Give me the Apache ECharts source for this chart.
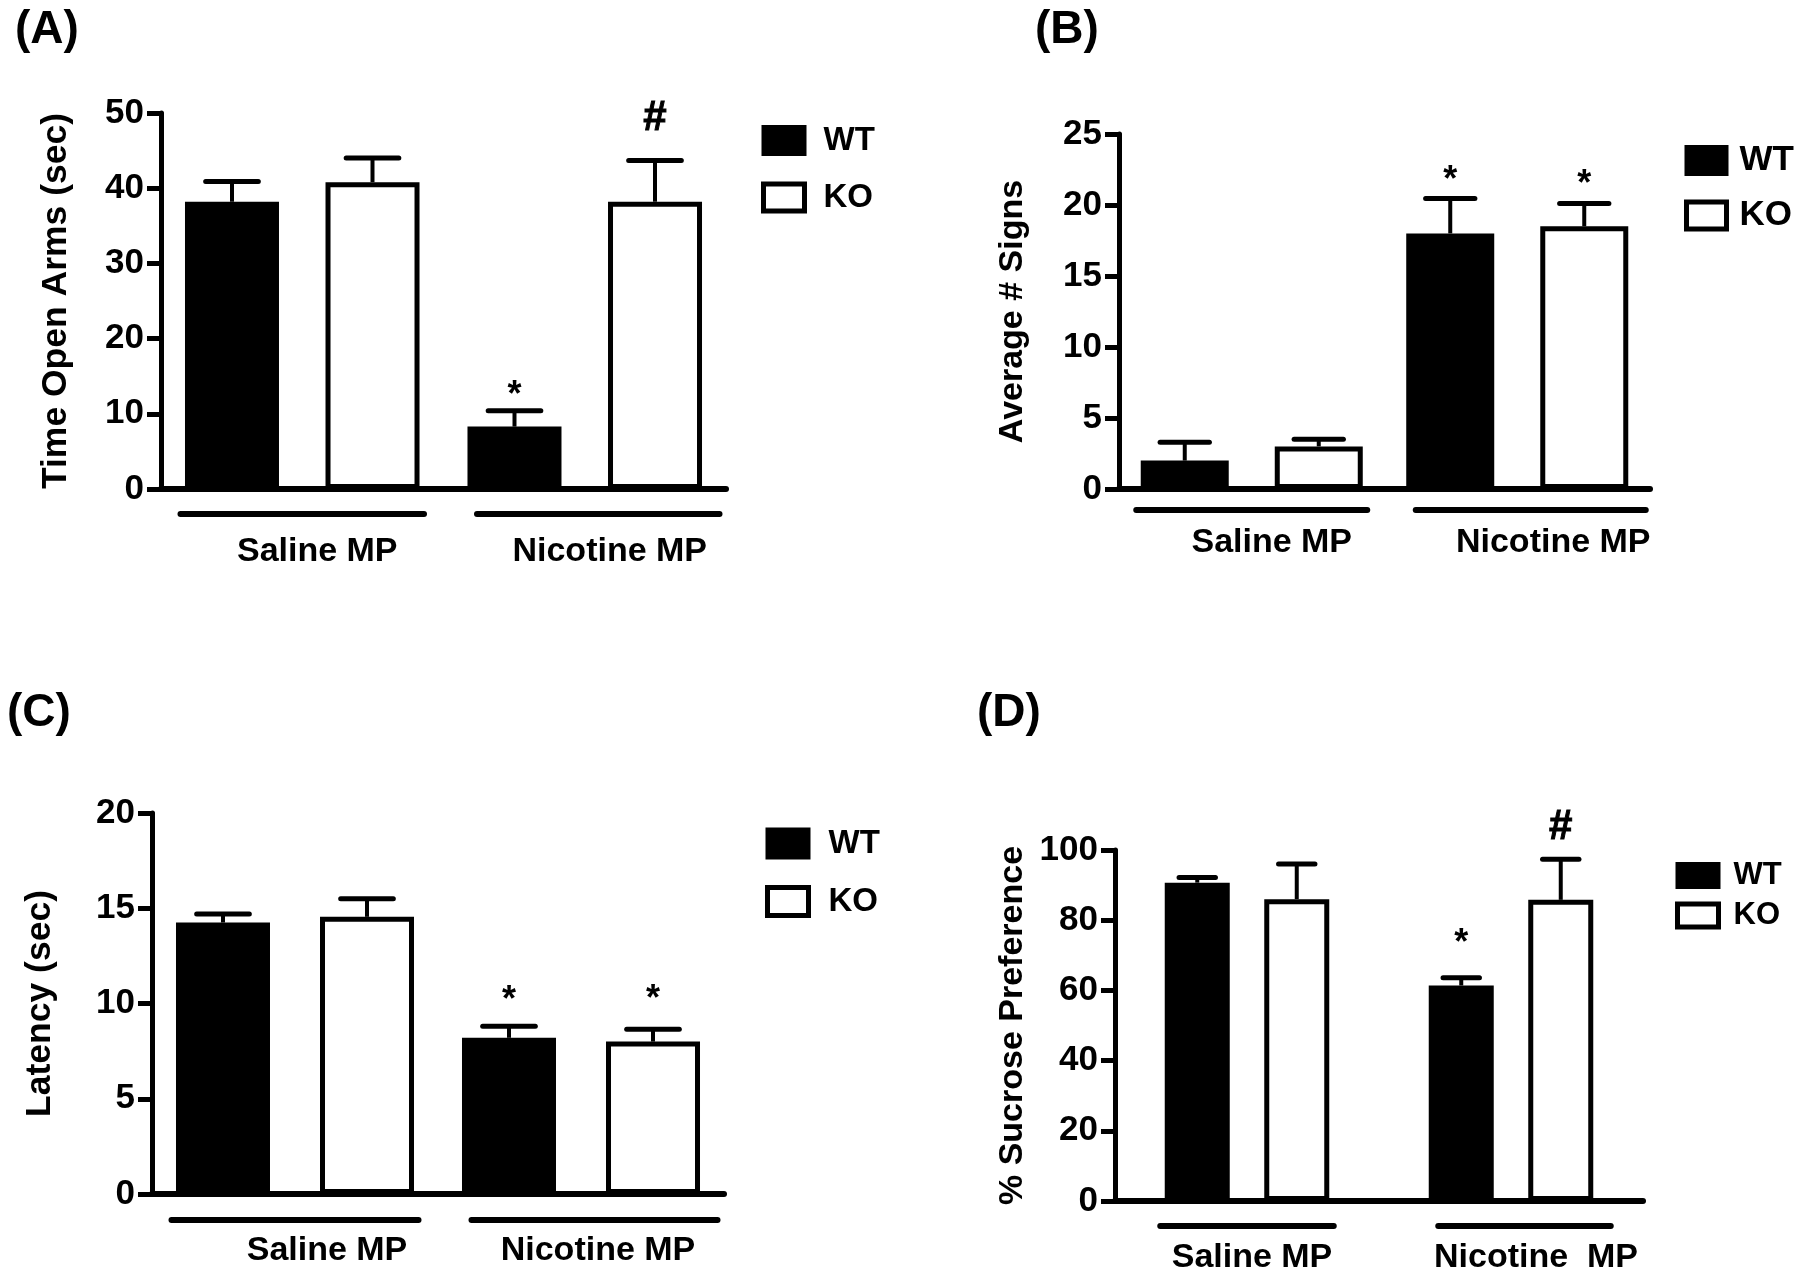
<!DOCTYPE html>
<html><head><meta charset="utf-8">
<script src="https://cdn.jsdelivr.net/npm/echarts@6/dist/echarts.min.js"></script>
<style>html,body{margin:0;padding:0;background:#fff}#c{width:1800px;height:1275px}</style>
</head><body><div id="c"></div>
<script>
// ---------------- DATA ----------------
const groupsABC = ['Saline MP', 'Nicotine MP'];
const groupsD = ['Saline MP', 'Nicotine  MP'];
const seriesNames = ['WT', 'KO'];

// (A) Time Open Arms (sec)
const A_yTicks = [0, 10, 20, 30, 40, 50];
const A_wt = [38.2, 8.3];
const A_wtErr = [2.7, 2.1];
const A_ko = [40.8, 38.2];
const A_koErr = [3.2, 5.5];
const A_wtSig = ['', '*'];
const A_koSig = ['', '#'];

// (B) Average # Signs
const B_yTicks = [0, 5, 10, 15, 20, 25];
const B_wt = [2.0, 18.0];
const B_wtErr = [1.3, 2.45];
const B_ko = [3.0, 18.5];
const B_koErr = [0.5, 1.6];
const B_wtSig = ['', '*'];
const B_koSig = ['', '*'];

// (C) Latency (sec)
const C_yTicks = [0, 5, 10, 15, 20];
const C_wt = [14.25, 8.2];
const C_wtErr = [0.45, 0.6];
const C_ko = [14.55, 8.0];
const C_koErr = [0.95, 0.65];
const C_wtSig = ['', '*'];
const C_koSig = ['', '*'];

// (D) % Sucrose Preference
const D_yTicks = [0, 20, 40, 60, 80, 100];
const D_wt = [90.7, 61.4];
const D_wtErr = [1.5, 2.2];
const D_ko = [86.0, 85.8];
const D_koErr = [10.0, 11.6];
const D_wtSig = ['', '*'];
const D_koSig = ['', '#'];

// ---------------- LAYOUT / STYLE ----------------
const FONT = '"Liberation Sans", Arial, Helvetica, sans-serif';
const panels = [
  { tag: '(A)', yName: 'Time Open Arms (sec)', groups: groupsABC, ticks: A_yTicks,
    wt: A_wt, wtErr: A_wtErr, ko: A_ko, koErr: A_koErr, wtSig: A_wtSig, koSig: A_koSig,
    grid: { left: 161, top: 113, width: 565, height: 376 }, bw: 94, gap: 46.5,
    lblPad: [30, 50], lblMargin: 46, nameGap: 87, nameSize: 35.5, ulOff: 25,
    sigLift: [[0, 23], [0, 43]],
    leg: { left: 761, top: 124, w: 41, h: 27, gap: 24, pad: 14, fs: 33 }, title: { left: 10, top: 2 } },
  { tag: '(B)', yName: 'Average # Signs', groups: groupsABC, ticks: B_yTicks,
    wt: B_wt, wtErr: B_wtErr, ko: B_ko, koErr: B_koErr, wtSig: B_wtSig, koSig: B_koSig,
    grid: { left: 1119, top: 134, width: 531, height: 355 }, bw: 88, gap: 46,
    lblPad: [40, 72], lblMargin: 37, nameGap: 89, nameSize: 34, ulOff: 21,
    sigLift: [[0, 25], [0, 26]],
    leg: { left: 1684, top: 143, w: 40, h: 27, gap: 20, pad: 8, fs: 35 }, title: { left: 1030, top: 2 } },
  { tag: '(C)', yName: 'Latency (sec)', groups: groupsABC, ticks: C_yTicks,
    wt: C_wt, wtErr: C_wtErr, ko: C_ko, koErr: C_koErr, wtSig: C_wtSig, koSig: C_koSig,
    grid: { left: 152, top: 813, width: 572, height: 381 }, bw: 94, gap: 50,
    lblPad: [64, 34], lblMargin: 40, nameGap: 94, nameSize: 35.5, ulOff: 26,
    sigLift: [[0, 33], [0, 37]],
    leg: { left: 765, top: 827, w: 41, h: 28, gap: 25, pad: 15, fs: 33 }, title: { left: 2, top: 685 } },
  { tag: '(D)', yName: '% Sucrose Preference', groups: groupsD, ticks: D_yTicks,
    wt: D_wt, wtErr: D_wtErr, ko: D_ko, koErr: D_koErr, wtSig: D_wtSig, koSig: D_koSig,
    grid: { left: 1115, top: 850, width: 528, height: 354 }, bw: 65, gap: 34.5,
    lblPad: [10, 50], lblMargin: 40, nameGap: 85, nameSize: 34, ulOff: 25,
    sigLift: [[0, 42], [0, 33]],
    leg: { left: 1675, top: 860, w: 41, h: 23, gap: 9, pad: 10, fs: 31 }, title: { left: 972, top: 685 } }
];

const option = {
  animation: false,
  backgroundColor: '#fff',
  title: [], grid: [], xAxis: [], yAxis: [], legend: [], series: []
};

panels.forEach((p, k) => {
  option.title.push({ text: p.tag, left: p.title.left, top: p.title.top,
    textStyle: { fontFamily: FONT, fontWeight: 'bold', fontSize: 46, color: '#000' } });
  option.grid.push(Object.assign({ containLabel: false }, p.grid));
  option.xAxis.push({
    type: 'category', gridIndex: k,
    data: p.groups.map((g, i) => ({ value: g, textStyle: { padding: [0, 0, 0, p.lblPad[i]] } })),
    axisLine: { lineStyle: { color: '#000', width: 6 } },
    axisTick: { show: false },
    axisLabel: { interval: 0, hideOverlap: false, color: '#000', fontFamily: FONT, fontWeight: 'bold', fontSize: 34, margin: p.lblMargin },
    splitLine: { show: false }
  });
  const t = p.ticks;
  option.yAxis.push({
    type: 'value', gridIndex: k, min: t[0], max: t[t.length - 1], interval: t[1] - t[0],
    name: p.yName, nameLocation: 'middle', nameGap: p.nameGap,
    nameTextStyle: { color: '#000', fontFamily: FONT, fontWeight: 'bold', fontSize: p.nameSize },
    axisLine: { show: true, lineStyle: { color: '#000', width: 5 } },
    axisTick: { show: true, length: 14, lineStyle: { color: '#000', width: 5 } },
    axisLabel: { color: '#000', fontFamily: FONT, fontWeight: 'bold', fontSize: 35, margin: 17 },
    splitLine: { show: false }
  });
  option.legend.push({
    orient: 'vertical', left: p.leg.left, top: p.leg.top, itemWidth: p.leg.w, itemHeight: p.leg.h,
    itemGap: p.leg.gap, icon: 'rect', selectedMode: false, padding: 0,
    data: [
      { name: 'WT', itemStyle: { color: '#000', borderColor: '#000', borderWidth: 4 } },
      { name: 'KO', itemStyle: { color: '#fff', borderColor: '#000', borderWidth: 5 } }
    ],
    textStyle: { color: '#000', fontFamily: FONT, fontWeight: 'bold', fontSize: p.leg.fs, padding: [0, 0, 0, p.leg.pad] }
  });
  const barGap = (p.gap / p.bw * 100).toFixed(1) + '%';
  option.series.push({
    name: 'WT', type: 'bar', xAxisIndex: k, yAxisIndex: k, data: p.wt,
    barWidth: p.bw, barGap: barGap,
    itemStyle: { color: '#000', borderColor: '#000', borderWidth: 5 }, z: 2
  });
  option.series.push({
    name: 'KO', type: 'bar', xAxisIndex: k, yAxisIndex: k, data: p.ko,
    barWidth: p.bw, barGap: barGap,
    itemStyle: { color: '#fff', borderColor: '#000', borderWidth: 5 }, z: 2
  });
  // error bars + significance marks
  const errData = [];
  const sigs = [];
  p.wt.forEach((v, i) => { errData.push([i, v, p.wtErr[i], 0]); sigs.push([p.wtSig[i], p.sigLift[0][i]]); });
  p.ko.forEach((v, i) => { errData.push([i, v, p.koErr[i], 1]); sigs.push([p.koSig[i], p.sigLift[1][i]]); });
  option.series.push({
    type: 'custom', xAxisIndex: k, yAxisIndex: k, data: errData, silent: true, z: 5,
    renderItem: (params, api) => {
      const cat = api.value(0), v = api.value(1), e = api.value(2), s = api.value(3);
      const off = (p.bw + p.gap) / 2 * (s === 0 ? -1 : 1);
      const p0 = api.coord([cat, v]);
      const p1 = api.coord([cat, v + e]);
      const x = p0[0] + off;
      const cw = p.bw * 0.28;
      const ch = [
        { type: 'line', shape: { x1: x, y1: p0[1], x2: x, y2: p1[1] }, style: { stroke: '#000', lineWidth: 4 } },
        { type: 'line', shape: { x1: x - cw, y1: p1[1], x2: x + cw, y2: p1[1] }, style: { stroke: '#000', lineWidth: 5, lineCap: 'round' } }
      ];
      const sg = sigs[params.dataIndex];
      if (sg[0]) {
        const isStar = sg[0] === '*';
        const fs = isStar ? 36 : 42;
        const corr = isStar ? 0.22 * fs : 0.02 * fs;
        ch.push({ type: 'text', style: { text: sg[0], x: x, y: p1[1] - sg[1] + corr, align: 'center', verticalAlign: 'middle',
          font: 'bold ' + fs + 'px ' + FONT, fill: '#000', stroke: isStar ? null : '#000', lineWidth: isStar ? 0 : 1 } });
      }
      return { type: 'group', children: ch };
    }
  });
  // group underline
  option.series.push({
    type: 'custom', xAxisIndex: k, yAxisIndex: k, data: p.groups.map((g, i) => [i, 0]), silent: true, z: 5,
    renderItem: (params, api) => {
      const c = api.coord([api.value(0), 0]);
      const half = p.bw + p.gap / 2 + 2.5;
      const dl = params.dataIndex === 0 ? -2 : 12;
      const dr = params.dataIndex === 0 ? 2 : 15;
      const y = c[1] + p.ulOff;
      return { type: 'line', shape: { x1: c[0] - half + dl, y1: y, x2: c[0] + half + dr, y2: y },
        style: { stroke: '#000', lineWidth: 6, lineCap: 'round' } };
    }
  });
});

const chart = echarts.init(document.getElementById('c'), null, { renderer: 'canvas' });
chart.setOption(option);
</script>
</body></html>
